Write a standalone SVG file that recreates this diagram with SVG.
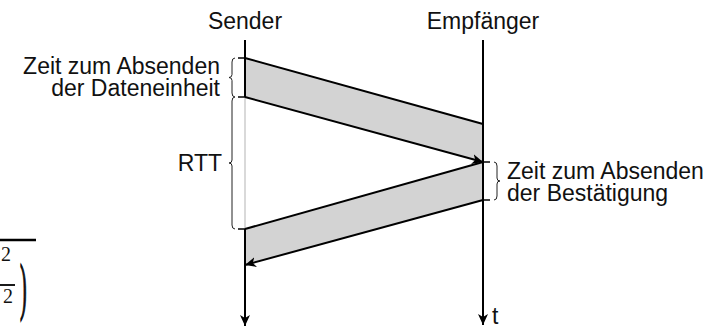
<svg xmlns="http://www.w3.org/2000/svg" width="728" height="328" viewBox="0 0 728 328">
<style>
text{font-family:"Liberation Sans",Arial,sans-serif;font-size:23px;fill:#111}
.serif{font-family:"Liberation Serif","Times New Roman",serif;font-size:20px}
.edge{stroke:#000;stroke-width:2;fill:none}
.fill{fill:#d3d3d3;stroke:none}
.brace{stroke:#222;stroke-width:1;fill:none}
.tick{stroke:#000;stroke-width:1.5}
</style>
<defs>
<marker id="ah" markerWidth="12" markerHeight="10" refX="11" refY="5" orient="auto" markerUnits="userSpaceOnUse">
<path d="M0,0 L11,5 L0,10 L3,5 Z" fill="#000"/>
</marker>
</defs>
<g id="fragment">
<line x1="0" y1="240" x2="36" y2="240" stroke="#000" stroke-width="2.5"/>
<text class="serif" x="1" y="261">2</text>
<line x1="0" y1="285" x2="15" y2="285" stroke="#000" stroke-width="1.8"/>
<text class="serif" x="3" y="303">2</text>
<text class="serif" transform="translate(20,308) scale(1,3.2)" font-size="30" stroke="#000" stroke-width="0.5">)</text>
</g>
<g id="connectors">
<polygon class="fill" points="245,58 483,124 483,162 245,97"/>
<polygon class="fill" points="483,162 245,229 245,265 483,200"/>
<line class="edge" x1="245" y1="40" x2="245" y2="97"/>
<line x1="245" y1="97" x2="245" y2="229" stroke="#cccccc" stroke-width="1.5"/>
<line class="edge" x1="245" y1="229" x2="245" y2="326" marker-end="url(#ah)"/>
<line class="edge" x1="483" y1="40" x2="483" y2="325" marker-end="url(#ah)"/>
<line class="edge" x1="245" y1="58" x2="483" y2="124"/>
<line class="edge" x1="245" y1="97" x2="483" y2="162" marker-end="url(#ah)"/>
<line class="edge" x1="483" y1="162" x2="245" y2="229"/>
<line class="edge" x1="483" y1="200" x2="245" y2="265" marker-end="url(#ah)"/>
<line class="tick" x1="238" y1="58" x2="245" y2="58"/>
<line class="tick" x1="238" y1="97" x2="245" y2="97"/>
<line class="tick" x1="238" y1="229" x2="245" y2="229"/>
<line class="tick" x1="483" y1="162" x2="490" y2="162"/>
<line class="tick" x1="483" y1="200" x2="490" y2="200"/>
<path class="brace" d="M235,58 Q232,58 232,62 L232,74.5 Q232,77.5 229,77.5 Q232,77.5 232,80.5 L232,93 Q232,97 235,97"/>
<path class="brace" d="M235,97 Q232,97 232,101 L232,160 Q232,163 229,163 Q232,163 232,166 L232,225 Q232,229 235,229"/>
<path class="brace" d="M494,162 Q497,162 497,166 L497,178 Q497,181 500,181 Q497,181 497,184 L497,196 Q497,200 494,200"/>
</g>
<g id="sender"><text x="245" y="29" text-anchor="middle">Sender</text></g>
<g id="empfaenger"><text x="483" y="29" text-anchor="middle">Empfänger</text></g>
<g id="label-daten">
<text x="220" y="74" text-anchor="end">Zeit zum Absenden</text>
<text x="220" y="96" text-anchor="end">der Dateneinheit</text>
</g>
<g id="label-rtt"><text x="222" y="171" text-anchor="end">RTT</text></g>
<g id="label-bestaetigung">
<text x="507" y="179">Zeit zum Absenden</text>
<text x="507" y="201">der Bestätigung</text>
</g>
<g id="label-t"><text x="492" y="324">t</text></g>
</svg>
